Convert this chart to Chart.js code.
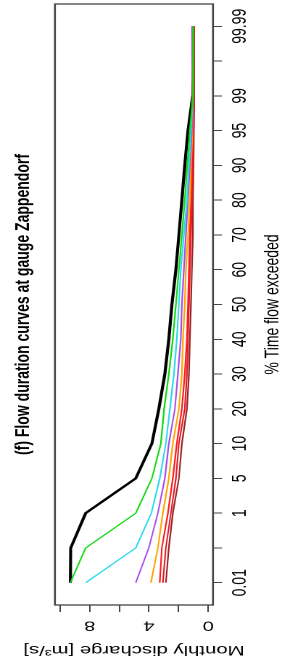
<!DOCTYPE html>
<html>
<head>
<meta charset="utf-8">
<script src="https://cdn.jsdelivr.net/npm/chart.js@4.4.0/dist/chart.umd.min.js"></script>
<style>
  html, body { margin: 0; padding: 0; background: #fff; overflow: hidden; }
  /* the R plot was turned a quarter turn and stretched, so the canvas is too */
  #wrap {
    position: absolute; left: 0; top: 0; width: 662px; height: 198px;
    transform-origin: 0 0;
    transform: translate(0px, 662px) rotate(-90deg) scaleY(1.45);
  }
</style>
</head>
<body>
<div id="wrap"><canvas id="chart" width="662" height="198"></canvas></div>
<script>
const titulo = "(f) Flow duration curves at gauge Zappendorf";

// % del tiempo excedido (posiciones equidistantes)
const exceedance = ["0.01", "0.1", "1", "5", "10", "20", "30", "40", "50", "60", "70", "80", "90", "95", "99", "99.9", "99.99"];
const tickLabels = ["0.01", "", "1", "5", "10", "20", "30", "40", "50", "60", "70", "80", "90", "95", "99", "", "99.99"];
const dischargeTicks = [0, 2, 4, 6, 8, 10];
const dischargeLabels = ["0", "", "4", "", "8", ""];

// caudal mensual [m3/s]
const serieBlack  = [9.30, 9.28, 8.27, 4.89, 3.80, 3.33, 2.93, 2.66, 2.45, 2.18, 1.98, 1.78, 1.58, 1.37, 1.05, 1.00, 1.00];
const serieGreen  = [9.30, 8.27, 4.89, 3.80, 3.20, 2.98, 2.66, 2.39, 2.18, 1.98, 1.78, 1.58, 1.41, 1.24, 1.03, 1.03, 1.03];
const serieCyan   = [8.27, 4.89, 3.84, 3.27, 2.86, 2.59, 2.32, 2.12, 1.98, 1.85, 1.64, 1.44, 1.30, 1.17, 1.03, 1.03, 1.03];
const seriePurple = [4.89, 4.01, 3.40, 2.93, 2.66, 2.25, 2.05, 1.85, 1.78, 1.64, 1.51, 1.37, 1.24, 1.10, 1.05, 1.08, 1.10];
const serieOrange = [3.87, 3.40, 3.06, 2.66, 2.39, 1.98, 1.78, 1.71, 1.58, 1.51, 1.37, 1.24, 1.17, 1.07, 1.05, 1.07, 1.05];
const serieRed    = [3.27, 3.13, 2.72, 2.39, 2.12, 1.78, 1.58, 1.44, 1.37, 1.30, 1.24, 1.17, 1.10, 1.03, 0.98, 0.97, 0.97];
const serieRed2   = [3.06, 2.86, 2.52, 2.18, 1.98, 1.58, 1.44, 1.37, 1.30, 1.24, 1.17, 1.10, 1.03, 0.99, 0.96, 0.96, 0.96];
const serieBrown  = [2.86, 2.66, 2.39, 1.98, 1.78, 1.44, 1.30, 1.24, 1.17, 1.10, 1.03, 1.03, 1.00, 0.97, 0.95, 0.95, 0.95];

const toPoints = serie => serie.map((v, i) => ({ x: i, y: v }));

function linea(serie, color, ancho, orden) {
  return {
    data: toPoints(serie),
    borderColor: color,
    borderWidth: ancho,
    pointRadius: 0,
    tension: 0,
    order: orden
  };
}

// caja + titulo centrado sobre el area del grafico
const marco = {
  id: "marco",
  afterDraw(chart) {
    const { ctx, chartArea: a } = chart;
    ctx.save();
    ctx.strokeStyle = "#444";
    ctx.lineWidth = 1.3;
    ctx.strokeRect(a.left, a.top, a.right - a.left, a.bottom - a.top);
    ctx.fillStyle = "#000";
    ctx.font = 'bold 14px "Liberation Sans", Arial, sans-serif';
    ctx.textAlign = "center";
    ctx.textBaseline = "middle";
    ctx.fillText(titulo, (a.left + a.right) / 2, 16);
    ctx.restore();
  }
};

Chart.defaults.font.family = '"Liberation Sans", Arial, sans-serif';
Chart.defaults.font.size = 14;
Chart.defaults.color = "#000";

new Chart(document.getElementById("chart"), {
  type: "line",
  data: {
    datasets: [
      linea(serieGreen, "#10d810", 1.1, 0),
      linea(serieCyan, "#2ad8ee", 1.1, 0),
      linea(seriePurple, "#a64ee6", 1.1, 0),
      linea(serieOrange, "#ffa500", 1.1, 0),
      linea(serieRed, "#ff1a1a", 1.1, 0),
      linea(serieRed2, "#dd1c2a", 1.1, 0),
      linea(serieBrown, "#9b2323", 1.1, 0),
      linea(serieBlack, "#000000", 2.1, 1)
    ]
  },
  options: {
    responsive: false,
    animation: false,
    devicePixelRatio: 2,
    layout: { padding: { top: 37.9, right: 4, left: 0, bottom: 0 } },
    plugins: { legend: { display: false }, tooltip: { enabled: false } },
    scales: {
      x: {
        type: "linear",
        min: -0.64,
        max: 16.64,
        afterBuildTicks: s => { s.ticks = exceedance.map((_, i) => ({ value: i })); },
        afterFit: s => { s.height = 51.1; },
        ticks: {
          autoSkip: false,
          minRotation: 0,
          maxRotation: 0,
          padding: 4.2,
          callback: v => tickLabels[v]
        },
        grid: { drawOnChartArea: false, tickLength: 6.2, color: "#444", lineWidth: 1 },
        border: { display: false },
        title: { display: true, text: "% Time flow exceeded", padding: { top: 0, bottom: 1.6 } }
      },
      y: {
        type: "linear",
        min: -0.32,
        max: 10.34,
        afterBuildTicks: s => { s.ticks = dischargeTicks.map(v => ({ value: v })); },
        afterFit: s => { s.width = 57; },
        ticks: {
          minRotation: 90,
          maxRotation: 90,
          crossAlign: "center",
          padding: 9.5,
          callback: (v, i) => dischargeLabels[i]
        },
        grid: { drawOnChartArea: false, tickLength: 7, color: "#444", lineWidth: 1 },
        border: { display: false },
        title: { display: true, text: "Monthly discharge [m³/s]", padding: { top: 3.6, bottom: 0 } }
      }
    }
  },
  plugins: [marco]
});
</script>
</body>
</html>
